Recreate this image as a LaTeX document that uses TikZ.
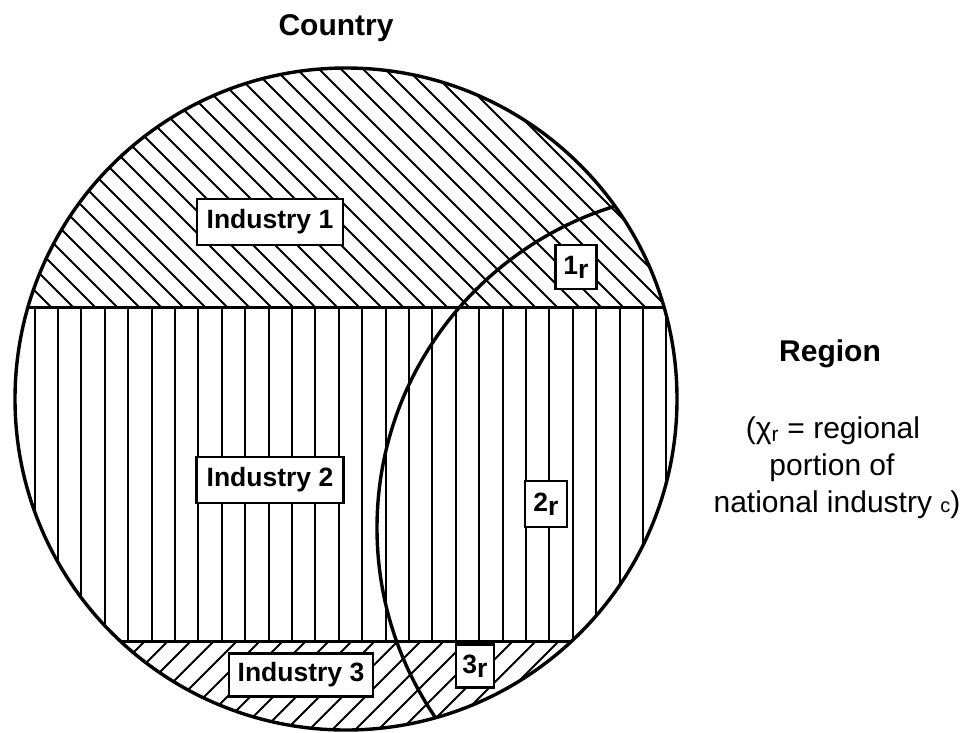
\documentclass[tikz,border=0pt]{standalone}
\usepackage{fontspec}
\setmainfont{Liberation Sans}
\begin{document}
\begin{tikzpicture}[x=1pt,y=-1pt,
  hatch/.style={line width=1.9pt},
  divline/.style={line width=3pt},
  outline/.style={line width=3.4pt},
  lbl/.style={draw, fill=white, line width=2.2pt, inner sep=0pt,
    font=\fontsize{26.5}{26.5}\selectfont\bfseries},
  heading/.style={font=\fontsize{30}{30}\selectfont\bfseries, anchor=base, inner sep=0pt},
  note/.style={font=\fontsize{30}{30}\selectfont, anchor=base, inner sep=0pt}]
\useasboundingbox (0,0) rectangle (965,732);
\coordinate (O) at (346,399);
\coordinate (R) at (713.5,528);
% Industry 1 hatching
\begin{scope}
  \clip (O) circle[radius=331pt];
  \clip (0,0) rectangle (965,307);
  \foreach \c in {-300,-278,...,640} \draw[hatch] (\c,0) -- ({\c+400},400);
\end{scope}
% Industry 2 hatching
\begin{scope}
  \clip (O) circle[radius=331pt];
  \clip (0,307) rectangle (965,641);
  \foreach \k in {-1,...,26} \draw[hatch] ({58+23.4*\k},300) -- ({58+23.4*\k},650);
\end{scope}
% Industry 3 hatching
\begin{scope}
  \clip (O) circle[radius=331pt];
  \clip (0,641) rectangle (965,740);
  \foreach \c in {0,23,...,620} \draw[hatch] (\c,740) -- ({\c+130},610);
\end{scope}
% labels
\node[lbl, minimum width=146pt, minimum height=46pt] (ind1) at (270,222) {Industry 1};
\node[lbl, minimum width=147pt, minimum height=46pt] (ind2) at (270,480) {Industry 2};
\node[lbl, minimum width=144pt, minimum height=43pt] (ind3) at (301,675) {Industry 3};
\node[lbl, minimum width=41pt, minimum height=44pt] (r1) at (576,267) {1\raisebox{-4pt}{r}};
\node[lbl, minimum width=42pt, minimum height=46pt] (r2) at (546,504) {2\raisebox{-4pt}{r}};
\node[lbl, minimum width=38pt, minimum height=43pt] (r3) at (475,666) {3\raisebox{-4pt}{r}};
% dividing lines and region boundary
\begin{scope}
  \clip (O) circle[radius=331pt];
  \draw[divline] (0,307) -- (965,307);
  \draw[divline] (0,641) -- (965,641);
  \draw[outline] (R) circle[radius=336.5pt];
\end{scope}
% country circle
\draw[outline] (O) circle[radius=331pt];
% texts
\node[heading] (country) at (336,35) {Country};
\node[heading] (region) at (830,361) {Region};
\node[note] (n1) at (833,438) {(χ\textsubscript{r} = regional};
\node[note] (n2) at (832,475) {portion of};
\node[note] (n3) at (837,512) {national industry {\fontsize{20}{20}\selectfont c})};
\end{tikzpicture}
\end{document}
